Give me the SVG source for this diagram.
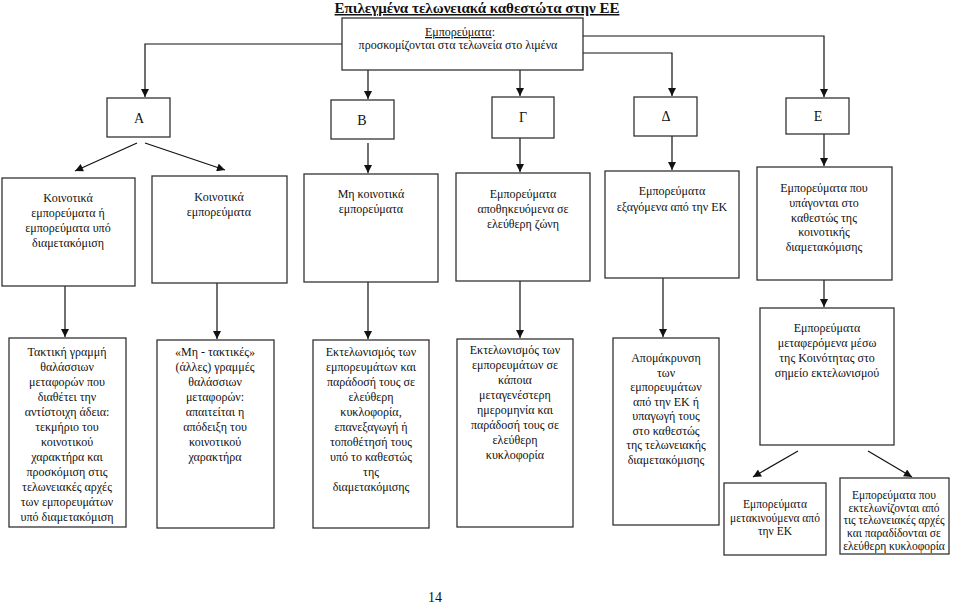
<svg xmlns="http://www.w3.org/2000/svg" width="960" height="605" viewBox="0 0 960 605">
<style>
.box{fill:#fff;stroke:#333;stroke-width:1.3}
.t{font-family:"Liberation Serif","Times New Roman",serif;font-size:12px;fill:#111;text-anchor:middle}
.big{font-size:14px}
.sm{font-size:11.5px}
.title{font-family:"Liberation Serif","Times New Roman",serif;font-size:15px;font-weight:bold;fill:#111;text-anchor:middle;text-decoration:underline}
.c{fill:none;stroke:#111;stroke-width:1.2}
</style>
<defs>
<marker id="ah" viewBox="0 0 10 10" refX="10" refY="5" markerWidth="9" markerHeight="8" markerUnits="userSpaceOnUse" orient="auto">
<path d="M0,0 L10,5 L0,10 z" fill="#111"/>
</marker>
</defs>
<rect width="960" height="605" fill="#fff"/>
<text class="title" x="477" y="13">Επιλεγμένα τελωνειακά καθεστώτα στην ΕΕ</text>

<g id="connectors">
<path class="c" d="M342,44 H145 V97" marker-end="url(#ah)"/>
<path class="c" d="M368,70 V99" marker-end="url(#ah)"/>
<path class="c" d="M520,70 V96" marker-end="url(#ah)"/>
<path class="c" d="M583,53 H672 V96" marker-end="url(#ah)"/>
<path class="c" d="M583,36 H824 V97" marker-end="url(#ah)"/>
<path class="c" d="M137,143 L75,171" marker-end="url(#ah)"/>
<path class="c" d="M145,143 L225,170" marker-end="url(#ah)"/>
<path class="c" d="M368,143 V173" marker-end="url(#ah)"/>
<path class="c" d="M520,138 V172" marker-end="url(#ah)"/>
<path class="c" d="M672,136 V170" marker-end="url(#ah)"/>
<path class="c" d="M824,134 V166" marker-end="url(#ah)"/>
<path class="c" d="M65,286 V337" marker-end="url(#ah)"/>
<path class="c" d="M217,283 V339" marker-end="url(#ah)"/>
<path class="c" d="M368,282 V339" marker-end="url(#ah)"/>
<path class="c" d="M520,281 V338" marker-end="url(#ah)"/>
<path class="c" d="M663,278 V337" marker-end="url(#ah)"/>
<path class="c" d="M824,280 V307" marker-end="url(#ah)"/>
<path class="c" d="M798,451 L753,477" marker-end="url(#ah)"/>
<path class="c" d="M868,451 L912,477" marker-end="url(#ah)"/>
</g>

<g id="top">
<rect class="box" x="342" y="18" width="241" height="52"/>
<text class="t" x="460" y="36"><tspan text-decoration="underline">Εμπορεύματα</tspan>:</text>
<text class="t" x="458" y="49">προσκομίζονται στα τελωνεία στο λιμένα</text>
</g>

<g id="A"><rect class="box" x="107" y="98" width="63" height="39"/><text class="t big" x="139" y="123">Α</text></g>
<g id="B"><rect class="box" x="331" y="100" width="63" height="39"/><text class="t big" x="362" y="125">Β</text></g>
<g id="G"><rect class="box" x="492" y="97" width="62" height="41"/><text class="t big" x="523" y="122">Γ</text></g>
<g id="D"><rect class="box" x="634" y="97" width="63" height="39"/><text class="t big" x="666" y="121">Δ</text></g>
<g id="E"><rect class="box" x="786" y="98" width="63" height="36"/><text class="t big" x="818" y="121">Ε</text></g>

<g id="r2a"><rect class="box" x="2" y="178" width="133" height="108"/>
<text class="t" y="202"><tspan x="68">Κοινοτικά</tspan><tspan x="68" dy="15">εμπορεύματα ή</tspan><tspan x="68" dy="15">εμπορεύματα υπό</tspan><tspan x="68" dy="15">διαμετακόμιση</tspan></text></g>
<g id="r2b"><rect class="box" x="152" y="176" width="135" height="107"/>
<text class="t" y="201"><tspan x="219">Κοινοτικά</tspan><tspan x="219" dy="15">εμπορεύματα</tspan></text></g>
<g id="r2c"><rect class="box" x="304" y="174" width="134" height="108"/>
<text class="t" y="198"><tspan x="371">Μη κοινοτικά</tspan><tspan x="371" dy="15">εμπορεύματα</tspan></text></g>
<g id="r2d"><rect class="box" x="456" y="173" width="134" height="108"/>
<text class="t" y="198"><tspan x="523">Εμπορεύματα</tspan><tspan x="523" dy="15">αποθηκευόμενα σε</tspan><tspan x="523" dy="15">ελεύθερη ζώνη</tspan></text></g>
<g id="r2e"><rect class="box" x="605" y="171" width="134" height="107"/>
<text class="t" y="195"><tspan x="672">Εμπορεύματα</tspan><tspan x="672" dy="16">εξαγόμενα από την ΕΚ</tspan></text></g>
<g id="r2f"><rect class="box" x="757" y="167" width="135" height="113"/>
<text class="t" y="192"><tspan x="824">Εμπορεύματα που</tspan><tspan x="824" dy="15">υπάγονται  στο</tspan><tspan x="824" dy="14.5">καθεστώς της</tspan><tspan x="824" dy="14.5">κοινοτικής</tspan><tspan x="824" dy="14.5">διαμετακόμισης</tspan></text></g>

<g id="r3a"><rect class="box" x="9" y="338" width="117" height="189"/>
<text class="t" y="356"><tspan x="67">Τακτική γραμμή</tspan><tspan x="67" dy="15">θαλάσσιων</tspan><tspan x="67" dy="15">μεταφορών που</tspan><tspan x="67" dy="15">διαθέτει την</tspan><tspan x="67" dy="15">αντίστοιχη άδεια:</tspan><tspan x="67" dy="15">τεκμήριο του</tspan><tspan x="67" dy="15">κοινοτικού</tspan><tspan x="67" dy="15">χαρακτήρα και</tspan><tspan x="67" dy="15">προσκόμιση στις</tspan><tspan x="67" dy="15">τελωνειακές αρχές</tspan><tspan x="67" dy="15">των εμπορευμάτων</tspan><tspan x="67" dy="15">υπό διαμετακόμιση</tspan></text></g>
<g id="r3b"><rect class="box" x="157" y="340" width="117" height="188"/>
<text class="t" y="356"><tspan x="215">«Μη - τακτικές»</tspan><tspan x="215" dy="15">(άλλες) γραμμές</tspan><tspan x="215" dy="15">θαλάσσιων</tspan><tspan x="215" dy="15">μεταφορών:</tspan><tspan x="215" dy="15">απαιτείται η</tspan><tspan x="215" dy="15">απόδειξη του</tspan><tspan x="215" dy="15">κοινοτικού</tspan><tspan x="215" dy="15">χαρακτήρα</tspan></text></g>
<g id="r3c"><rect class="box" x="313" y="340" width="116" height="188"/>
<text class="t" y="356"><tspan x="371">Εκτελωνισμός των</tspan><tspan x="371" dy="15">εμπορευμάτων και</tspan><tspan x="371" dy="15">παράδοσή τους σε</tspan><tspan x="371" dy="15">ελεύθερη</tspan><tspan x="371" dy="15">κυκλοφορία,</tspan><tspan x="371" dy="15">επανεξαγωγή ή</tspan><tspan x="371" dy="15">τοποθέτησή τους</tspan><tspan x="371" dy="15">υπό το καθεστώς</tspan><tspan x="371" dy="15">της</tspan><tspan x="371" dy="15">διαμετακόμισης</tspan></text></g>
<g id="r3d"><rect class="box" x="457" y="339" width="116" height="188"/>
<text class="t" y="354"><tspan x="515">Εκτελωνισμός των</tspan><tspan x="515" dy="15">εμπορευμάτων σε</tspan><tspan x="515" dy="15">κάποια</tspan><tspan x="515" dy="15">μεταγενέστερη</tspan><tspan x="515" dy="15">ημερομηνία και</tspan><tspan x="515" dy="15">παράδοσή τους σε</tspan><tspan x="515" dy="15">ελεύθερη</tspan><tspan x="515" dy="15">κυκλοφορία</tspan></text></g>
<g id="r3e"><rect class="box" x="613" y="338" width="106" height="187"/>
<text class="t" y="362"><tspan x="666">Απομάκρυνση</tspan><tspan x="666" dy="14.5">των</tspan><tspan x="666" dy="14.5">εμπορευμάτων</tspan><tspan x="666" dy="14.5">από την ΕΚ ή</tspan><tspan x="666" dy="14.5">υπαγωγή τους</tspan><tspan x="666" dy="14.5">στο καθεστώς</tspan><tspan x="666" dy="14.5">της τελωνειακής</tspan><tspan x="666" dy="14.5">διαμετακόμισης</tspan></text></g>
<g id="r3f"><rect class="box" x="760" y="308" width="134" height="137"/>
<text class="t" y="332"><tspan x="827">Εμπορεύματα</tspan><tspan x="827" dy="15">μεταφερόμενα μέσω</tspan><tspan x="827" dy="15">της Κοινότητας στο</tspan><tspan x="827" dy="15">σημείο εκτελωνισμού</tspan></text></g>

<g id="r4a"><rect class="box" x="724" y="483" width="102" height="72"/>
<text class="t sm" y="508"><tspan x="775">Εμπορεύματα</tspan><tspan x="775" dy="14">μετακινούμενα από</tspan><tspan x="775" dy="13">την ΕΚ</tspan></text></g>
<g id="r4b"><rect class="box" x="840" y="478" width="109" height="76"/>
<text class="t sm" y="499"><tspan x="894">Εμπορεύματα που</tspan><tspan x="894" dy="12.7">εκτελωνίζονται από</tspan><tspan x="894" dy="12.7">τις τελωνειακές αρχές</tspan><tspan x="894" dy="12.7">και παραδίδονται σε</tspan><tspan x="894" dy="12.7">ελεύθερη κυκλοφορία</tspan></text></g>

<text class="t big" x="435" y="602">14</text>
</svg>
